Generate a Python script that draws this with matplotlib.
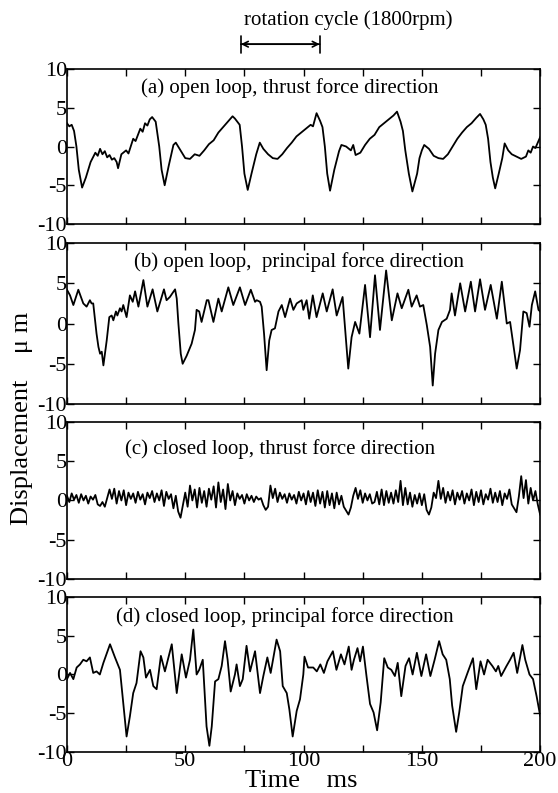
import numpy as np
import matplotlib
matplotlib.use('Agg')
from matplotlib import pyplot as plt

plt.rcParams['font.family'] = ['Liberation Serif', 'DejaVu Serif']

# x ticks (ms) and labels, y ticks
x_ticks = [0, 25, 50, 75, 100, 125, 150, 175, 200]
x_labels = ['0', '', '50', '', '100', '', '150', '', '200']
y_ticks = [-10, -5, 0, 5, 10]
y_labels = ['-10', '-5', '0', '5', '10']

titles = ['(a) open loop, thrust force direction',
          '(b) open loop,  principal force direction',
          '(c) closed loop, thrust force direction',
          '(d) closed loop, principal force direction']

# (a) open loop, thrust direction  -- time (ms), displacement (um)
a_t = [0, 1, 2, 3, 4, 5, 6.4, 8, 10, 12, 13, 14, 15, 16, 17, 18, 19, 20, 21, 21.6,
       23, 25, 26, 28, 29, 31, 32, 33, 34, 35, 36, 37.5, 39, 40, 41.3, 43, 45, 46,
       48, 50, 52, 54, 56, 58, 60, 62, 64, 66, 68, 70, 71, 73, 74, 75, 76.4, 78,
       80, 81.5, 83, 85, 87, 89, 91, 93, 95, 97, 99, 101, 103, 104, 105.5, 107,
       108, 109, 110, 111.2, 113, 115, 116, 118, 120, 121, 122, 124, 126, 128,
       130, 132, 134, 136, 138, 139.5, 141, 142, 143, 144.5, 146, 148, 149, 150,
       151, 153, 155, 157, 159, 161, 163, 165, 167, 169, 171, 173, 174.6, 176,
       177, 178, 179, 180, 181, 182.5, 184, 185, 186.5, 188, 190, 192, 194, 195,
       196, 197, 198, 199, 200]
a_disp = [3.0, 2.6, 2.8, 2.0, 0.0, -3.0, -5.3, -4.0, -2.0, -0.8, -1.2, -0.3, -1.0,
          -0.6, -1.4, -1.1, -1.7, -1.5, -2.0, -2.8, -1.0, -0.5, -0.9, 1.0, 0.7,
          2.3, 1.9, 3.0, 2.7, 3.5, 3.8, 3.2, 0.0, -3.0, -5.0, -2.5, 0.2, 0.5, -0.5,
          -1.5, -1.6, -1.0, -1.2, -0.5, 0.3, 0.8, 1.8, 2.5, 3.2, 3.9, 3.6, 2.8, 0.0,
          -3.5, -5.6, -3.5, -1.0, 0.5, -0.3, -1.0, -1.5, -1.6, -1.0, -0.2, 0.5, 1.3,
          1.8, 2.3, 2.8, 2.6, 4.3, 3.3, 2.5, 0.0, -3.5, -5.7, -3.0, -0.6, 0.2, 0.0,
          -0.5, 0.2, -1.1, -0.8, 0.2, 1.0, 1.5, 2.5, 3.0, 3.5, 4.0, 4.5, 3.2, 2.0,
          -0.5, -3.5, -5.8, -3.5, -1.5, -0.5, 0.2, -0.3, -1.2, -1.5, -1.6, -1.0,
          0.0, 1.0, 1.8, 2.5, 3.0, 3.7, 4.2, 3.5, 2.8, 1.0, -2.0, -4.0, -5.4, -3.5,
          -1.5, 0.4, -0.5, -1.0, -1.3, -1.6, -1.3, -0.5, -0.8, 0.0, -0.2, 0.5, 1.2]

# (b) open loop, principal direction
b_t = [0, 1.3, 2.7, 4.8, 6.9, 8.3, 9.7, 10.4, 11.1, 12.5, 13.3, 14.0, 14.7, 15.4,
       16.8, 17.9, 18.9, 19.6, 20.7, 21.3, 22.4, 23.1, 23.8, 25.2, 26.6, 27.8,
       28.8, 30.2, 32.3, 34.0, 36.2, 38.2, 41.0, 42.1, 43.5, 45.7, 46.4, 47.1,
       48.1, 48.9, 50.6, 52.7, 54.1, 54.8, 55.9, 56.9, 59.1, 59.8, 61.9, 64.0,
       65.4, 68.2, 70.3, 73.1, 75.3, 77.7, 79.5, 80.2, 81.6, 82.3, 83.3, 84.4,
       85.5, 86.5, 87.9, 89.4, 90.8, 92.2, 94.3, 95.7, 97.1, 99.2, 99.9, 101.3,
       102.4, 103.9, 105.5, 108.1, 109.8, 112.3, 114.0, 116.5, 117.5, 118.9,
       120.3, 121.8, 123.6, 126.0, 128.1, 130.2, 132.3, 134.9, 137.3, 139.7,
       141.5, 144.3, 145.7, 147.8, 149.2, 150.6, 152.1, 153.5, 154.6, 155.6,
       157.0, 158.5, 160.5, 161.9, 162.6, 164.0, 166.2, 168.3, 170.7, 172.5,
       174.6, 176.7, 179.1, 181.7, 183.8, 185.9, 187.3, 190.1, 191.5, 192.9,
       194.3, 195.5, 196.5, 197.9, 199.3, 200]
b_disp = [4.2, 3.5, 2.3, 4.2, 2.5, 2.1, 2.9, 2.5, 2.5, -1.25, -2.9, -3.75, -3.5,
          -5.2, -2.1, 0.8, 1.0, 0.4, 1.5, 1.0, 1.9, 1.5, 2.3, 0.8, 3.5, 2.7, 4.0,
          2.1, 5.4, 2.1, 4.25, 1.5, 4.25, 2.9, 3.3, 4.25, 3.1, 0.0, -3.75, -5.0,
          -4.0, -2.5, -0.8, 1.7, 1.5, 0.2, 2.9, 2.9, 0.2, 3.1, 1.5, 4.5, 2.3, 4.5,
          2.3, 4.2, 2.7, 2.9, 2.7, 2.1, -1.25, -5.8, -2.1, -0.8, -0.6, 1.5, 2.3,
          0.8, 3.1, 1.7, 2.5, 2.9, 1.7, 2.9, 0.6, 3.5, 0.8, 3.75, 1.5, 4.25, 1.0,
          3.3, -0.4, -5.6, -1.7, 0.2, -1.25, 4.8, -1.7, 6.0, -0.8, 6.6, 0.4, 3.75,
          1.9, 4.2, 2.1, 3.5, 2.1, 2.3, -0.2, -2.9, -7.7, -3.75, -0.8, 0.2, 0.6,
          1.7, 3.75, 1.0, 5.0, 1.5, 5.2, 1.5, 5.5, 1.7, 4.8, 0.6, 5.2, 0.0, 0.2,
          -5.6, -3.3, 1.5, 1.3, -0.4, 2.3, 4.0, 1.7, 1.5]

# (c) closed loop, thrust direction, one sample per ms
c_disp = [0.6, -0.2, 0.9, 0.1, 0.7, -0.3, 0.8, 0.0, 0.6, -0.4,
          0.5, 0.1, 0.7, -0.5, -0.7, -0.2, -0.8, 0.3, 1.4, 0.2,
          1.5, -0.4, 1.2, 0.0, 1.3, -0.6, 1.0, 0.2, 0.9, -0.3,
          1.1, 0.1, 0.8, -0.5, 1.0, 0.3, 1.2, -0.2, 0.9, 0.0,
          1.3, -0.7, 1.1, 0.2, 0.8, -1.0, 0.6, -1.4, -2.2, -0.6,
          1.0, -0.8, 1.9, 0.0, 1.4, -0.9, 1.6, -0.3, 1.2, -0.8,
          1.5, 0.1, 1.8, -0.9, 2.3, -0.2, 1.4, -1.1, 2.1, 0.0,
          1.2, -0.6, 0.9, 0.2, 0.7, -0.4, 0.8, 0.0, 0.6, -0.2,
          0.5, 0.1, 0.3, -0.6, -1.2, -0.8, 1.9, 0.3, 1.5, -0.2,
          1.0, 0.2, 0.8, -0.3, 0.9, 0.1, 0.7, -0.4, 1.1, 0.0,
          0.9, -0.5, 1.2, -0.2, 1.0, -0.7, 1.3, -0.4, 1.1, -0.9,
          1.2, -0.6, 0.9, -1.0, 1.0, -0.5, 0.6, -0.8, -1.3, -1.8,
          -0.9, 0.6, 1.6, 0.2, 1.3, -0.3, 0.9, 0.0, 0.8, -0.4,
          -0.2, 1.1, -0.5, 1.4, -0.6, 1.2, -0.3, 1.0, -0.4, 1.3,
          -0.2, 2.5, -0.6, 1.6, -0.5, 1.0, -0.8, 0.7, -0.4, 0.9,
          -0.6, 0.8, -1.2, -1.8, -0.9, 1.0, 0.3, 2.5, 0.2, 1.6,
          -0.3, 1.1, 0.0, 1.3, -0.5, 1.0, 0.1, 1.2, -0.4, 0.9,
          0.0, 1.4, -0.6, 1.1, -0.2, 1.3, -0.5, 0.8, 0.1, 1.5,
          -0.3, 1.0, -0.2, 1.2, -0.6, 0.9, 0.2, 1.4, -0.5, -1.0,
          -1.5, 0.5, 3.1, 0.3, 2.6, -0.4, 1.6, 0.0, 1.2, -0.5,
          -1.8]
c_t = np.arange(len(c_disp))

# (d) closed loop, principal direction
d_t = [0, 1.3, 2.7, 4.1, 5.5, 6.9, 8.3, 9.7, 11.1, 12.5, 13.9, 15.4, 18.2, 20.3,
       22.4, 23.8, 25.2, 26.6, 28.0, 29.4, 31.1, 32.3, 33.4, 35.1, 36.5, 37.9,
       39.7, 41.4, 44.3, 46.4, 48.5, 50.3, 52.0, 53.4, 54.8, 55.9, 57.4, 59.0,
       60.2, 61.2, 62.6, 64.0, 65.4, 66.8, 67.9, 69.2, 71.0, 71.7, 73.1, 74.3,
       75.9, 77.4, 79.5, 81.6, 83.0, 84.7, 86.1, 88.6, 90.1, 91.2, 92.9, 94.0,
       95.4, 97.1, 98.5, 99.9, 100.4, 101.9, 104.1, 105.6, 107.1, 108.6, 110.1,
       112.4, 113.9, 115.8, 117.3, 119.1, 120.3, 121.3, 122.8, 123.9, 125.1,
       126.6, 128.1, 129.6, 131.1, 132.6, 134.1, 135.6, 137.1, 138.6, 139.8,
       141.3, 143.1, 144.6, 146.1, 147.9, 149.8, 151.8, 153.6, 155.4, 157.3,
       158.8, 160.3, 161.8, 162.8, 164.5, 165.8, 167.3, 169.3, 171.6, 173.0,
       174.8, 176.3, 177.8, 179.8, 181.3, 182.3, 183.5, 185.8, 187.3, 188.8,
       190.3, 192.5, 193.7, 195.5, 197.0, 198.5, 200]
d_disp = [-0.6, 0.2, -0.6, 0.9, 1.3, 1.9, 1.7, 2.2, 0.2, 0.4, 0.0, 1.5, 3.9, 2.2,
          0.6, -3.7, -8.0, -5.4, -2.4, -1.1, 3.0, 2.2, -0.4, 0.6, -1.5, -1.9, 2.4,
          0.4, 3.9, -2.4, 2.6, -0.4, 1.9, 5.8, 0.0, 0.6, 1.9, -6.7, -9.2, -6.7,
          -0.9, -0.6, 1.1, 4.3, 1.9, -2.2, 0.0, 1.3, -1.5, -0.6, 3.7, 0.4, 3.0,
          -2.4, -0.2, 2.2, 0.2, 4.5, 3.0, -1.5, -2.4, -4.5, -8.0, -4.7, -3.2, 0.0,
          2.3, 0.9, 0.9, 0.4, 1.3, 0.2, 1.7, 3.0, 0.6, 2.6, 1.3, 3.6, 0.6, 1.9,
          3.4, 1.7, 3.6, -0.2, -3.8, -4.9, -7.2, -3.6, 2.1, 0.9, 0.6, -0.2, 1.5,
          -2.8, 1.1, 2.1, 0.0, 2.8, -0.2, 2.6, -0.2, 1.9, 4.3, 2.6, 1.9, -0.6,
          -4.0, -7.4, -4.9, -1.5, 0.2, 2.1, -1.9, 1.7, 0.0, 1.9, 1.1, 0.4, 1.1,
          -0.2, 1.1, 1.9, 2.8, 0.2, 3.8, 1.9, 0.0, -0.6, -2.8, -5.3]

series = [(a_t, a_disp), (b_t, b_disp), (c_t, c_disp), (d_t, d_disp)]

# rotation cycle at 1800 rpm
cycle_start = 73.5
cycle_ms = 60000.0 / 1800

fig = plt.figure(figsize=(5.58, 7.93), dpi=100)
# axes boxes in figure fraction (left, bottom, width, height)
boxes = [(0.120, 0.7175, 0.848, 0.1955),
         (0.120, 0.4905, 0.848, 0.2030),
         (0.120, 0.2699, 0.848, 0.1980),
         (0.120, 0.0517, 0.848, 0.1955)]
title_y = [0.88, 0.88, 0.83, 0.87]
title_x = [0.47, 0.49, 0.45, 0.46]

axes = []
for i, (box, (t, v)) in enumerate(zip(boxes, series)):
    ax = fig.add_axes(box)
    ax.plot(t, v, color='black', lw=1.3)
    ax.set_xlim(0, 200)
    ax.set_ylim(-10, 10)
    ax.set_xticks(x_ticks)
    ax.set_yticks(y_ticks)
    ax.set_yticklabels(y_labels)
    if i == 3:
        ax.set_xticklabels(x_labels)
    else:
        ax.set_xticklabels([])
    ax.tick_params(direction='in', top=True, right=True, length=5, width=1,
                   labelsize=16, pad=0)
    for s in ax.spines.values():
        s.set_linewidth(1.2)
    ax.text(title_x[i], title_y[i], titles[i], transform=ax.transAxes,
            ha='center', va='center', fontsize=15)
    axes.append(ax)

ax_a = axes[0]
ax_a.annotate('', xy=(cycle_start + cycle_ms, 1.16), xytext=(cycle_start, 1.16),
              xycoords=('data', 'axes fraction'),
              arrowprops=dict(arrowstyle='|-|', lw=1.2, mutation_scale=6,
                              shrinkA=0, shrinkB=0))
ax_a.annotate('', xy=(cycle_start + cycle_ms, 1.16), xytext=(cycle_start, 1.16),
              xycoords=('data', 'axes fraction'),
              arrowprops=dict(arrowstyle='<->', lw=1.2, shrinkA=0, shrinkB=0))
fig.text(0.624, 0.975, 'rotation cycle (1800rpm)', ha='center', va='center',
         fontsize=15)

fig.text(0.04, 0.473, 'Displacement    \u03bc m', rotation=90, ha='center',
         va='center', fontsize=19)
fig.text(0.54, 0.015, 'Time    ms', ha='center', va='center', fontsize=19)

fig.savefig('out.png', dpi=100)
